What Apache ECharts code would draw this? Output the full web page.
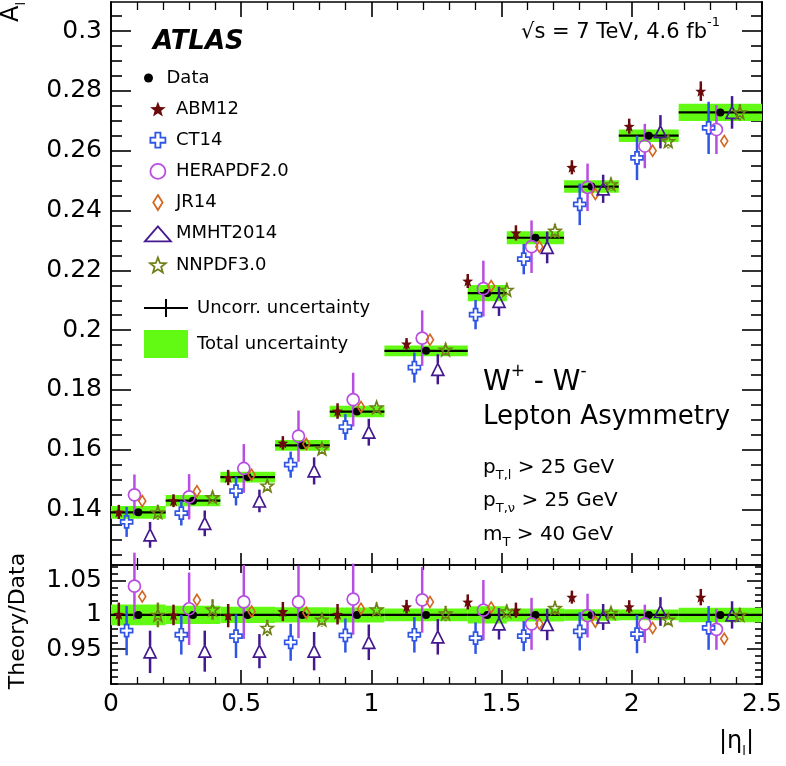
<!DOCTYPE html>
<html><head><meta charset="utf-8">
<script src="https://cdn.jsdelivr.net/npm/echarts@6/dist/echarts.min.js"></script>
<style>html,body{margin:0;padding:0;background:#fff}#c{width:786px;height:766px}</style>
</head><body><div id="c"></div>
<script>
// ---------------- data ----------------
const binEdges  = [0, 0.21, 0.42, 0.63, 0.84, 1.05, 1.37, 1.52, 1.74, 1.95, 2.18, 2.5];
const asymData  = [0.1391, 0.1430, 0.1509, 0.1615, 0.1728, 0.1931, 0.2124, 0.2309, 0.2480, 0.2650, 0.2728];
const uncorrErr = [0.0008, 0.0008, 0.0008, 0.0008, 0.0009, 0.0008, 0.0012, 0.0011, 0.0010, 0.0010, 0.0012];
const totalErr  = [0.0021, 0.0019, 0.0018, 0.0018, 0.0019, 0.0018, 0.0027, 0.0022, 0.0021, 0.0021, 0.0029];

// theory / data ratios and their uncertainties (ratio units)
const ratioABM12 = [1.001, 1.000, 0.999, 1.005, 1.001, 1.012, 1.019, 1.007, 1.026, 1.012, 1.026];
const errABM12   = [0.017, 0.015, 0.017, 0.014, 0.015, 0.010, 0.011, 0.011, 0.0095, 0.0095, 0.012];
const ratioCT14  = [0.977, 0.971, 0.969, 0.960, 0.970, 0.971, 0.966, 0.969, 0.976, 0.972, 0.981];
const errCT14    = [0.036, 0.029, 0.032, 0.027, 0.025, 0.026, 0.023, 0.022, 0.028, 0.028, 0.032];
const ratioHERA  = [1.042, 1.009, 1.019, 1.019, 1.023, 1.022, 1.007, 0.987, 0.999, 0.987, 0.979];
const errHERA    = [0.049, 0.053, 0.054, 0.053, 0.052, 0.048, 0.044, 0.038, 0.032, 0.028, 0.030];
const ratioJR14  = [1.027, 1.022, 1.005, 1.003, 1.009, 1.019, 1.011, 0.987, 0.990, 0.981, 0.965];
const errJR14    = [0, 0, 0, 0, 0, 0, 0, 0, 0, 0, 0];
const ratioMMHT  = [0.946, 0.947, 0.947, 0.947, 0.960, 0.968, 0.987, 0.986, 0.997, 1.005, 1.000];
const errMMHT    = [0.031, 0.030, 0.025, 0.028, 0.026, 0.026, 0.023, 0.023, 0.019, 0.021, 0.020];
const ratioNNPDF = [1.000, 1.008, 0.981, 0.993, 1.008, 1.002, 1.005, 1.010, 1.003, 0.993, 1.000];
const errNNPDF   = [0.018, 0.015, 0.012, 0.010, 0.010, 0.011, 0.010, 0.010, 0.009, 0.009, 0.010];

// tick labels
const xTicks      = [0, 0.5, 1, 1.5, 2, 2.5];
const yTicksTop   = [0.14, 0.16, 0.18, 0.2, 0.22, 0.24, 0.26, 0.28, 0.3];
const yTicksRatio = [0.95, 1, 1.05];

// ---------------- styling ----------------
const FF = '"DejaVu Sans", sans-serif';
const GREEN = '#62fa12';
const TOP_MIN = 0.1215, TOP_MAX = 0.3097;
const R_MIN = 0.899, R_MAX = 1.073;
const theoryOffsets = [-0.075, -0.045, -0.015, 0.015, 0.045, 0.075];

function starPath(inner) {
  let d = '';
  for (let i = 0; i < 10; i++) {
    const r = i % 2 ? inner : 1;
    const a = -Math.PI / 2 + i * Math.PI / 5;
    d += (i ? 'L' : 'M') + (50 + 50 * r * Math.cos(a)).toFixed(2) + ',' + (50 + 50 * r * Math.sin(a)).toFixed(2);
  }
  return 'path://' + d + 'Z';
}
const STAR = starPath(0.42);
const CROSS = 'path://M3.3,0L6.7,0L6.7,3.3L10,3.3L10,6.7L6.7,6.7L6.7,10L3.3,10L3.3,6.7L0,6.7L0,3.3L3.3,3.3Z';
const DIAMOND = 'path://M5,0L10,8L5,16L0,8Z';
const UNCORR_ICON = 'path://M0,8L44,8L44,10L0,10Z M21,0L23,0L23,18L21,18Z';

const theories = [
  {name: 'ABM12',      ratio: ratioABM12, err: errABM12, color: '#6b0a0a', symbol: STAR,       size: [11, 11], open: false, gap: 0},
  {name: 'CT14',       ratio: ratioCT14,  err: errCT14,  color: '#2f55e4', symbol: CROSS,      size: [12, 12], open: true,  gap: 6},
  {name: 'HERAPDF2.0', ratio: ratioHERA,  err: errHERA,  color: '#b84de2', symbol: 'circle',   size: [12, 12], open: true,  gap: 6},
  {name: 'JR14',       ratio: ratioJR14,  err: errJR14,  color: '#d4671f', symbol: DIAMOND,    size: [7, 11],  open: true,  gap: 6},
  {name: 'MMHT2014',   ratio: ratioMMHT,  err: errMMHT,  color: '#44198f', symbol: 'triangle', size: [12, 12], open: true,  gap: 6},
  {name: 'NNPDF3.0',   ratio: ratioNNPDF, err: errNNPDF, color: '#6f7e17', symbol: STAR,       size: [12, 12], open: true,  gap: 6}
];

const centers = binEdges.slice(0, -1).map((lo, i) => (lo + binEdges[i + 1]) / 2);

function minorValues(lo, hi, step, majors) {
  const out = [];
  for (let k = Math.ceil(lo / step - 1e-9); k * step <= hi + 1e-9; k++) {
    const v = +(k * step).toFixed(4);
    if (!majors.some(m => Math.abs(m - v) < 1e-9)) out.push(v);
  }
  return out;
}
const topMinor = minorValues(TOP_MIN, TOP_MAX, 0.005, yTicksTop);
const ratioMinor = minorValues(R_MIN, R_MAX, 0.01, yTicksRatio);

const LINE = {color: '#000', width: 1.6};
function xAx(grid, pos, labels, len, mlen) {
  return {
    type: 'value', gridIndex: grid, position: pos, min: 0, max: 2.5, interval: 0.5,
    axisLine: {show: true, onZero: false, lineStyle: LINE},
    axisTick: {show: true, inside: true, length: len, lineStyle: LINE},
    minorTick: {show: true, splitNumber: 5, length: mlen, lineStyle: {color: '#000', width: 1.3}},
    splitLine: {show: false}, minorSplitLine: {show: false},
    axisLabel: {show: labels, margin: 8, color: '#000', fontSize: 25, fontFamily: FF,
      formatter: v => (xTicks.some(t => Math.abs(t - v) < 1e-9) ? String(+v.toFixed(2)) : '')}
  };
}
function yAx(grid, pos, min, max, ticks, len, labels) {
  return {
    type: 'value', gridIndex: grid, position: pos, min: min, max: max,
    axisLine: {show: true, onZero: false, lineStyle: LINE},
    axisTick: {show: true, inside: true, length: len, customValues: ticks, lineStyle: LINE},
    splitLine: {show: false},
    axisLabel: {show: labels, customValues: ticks, margin: 9, color: '#000', fontSize: 25, fontFamily: FF,
      formatter: v => String(+v.toFixed(3))}
  };
}

const xAxes = [
  xAx(0, 'bottom', false, 12, 7),
  xAx(0, 'top', false, 15, 8),
  xAx(1, 'bottom', true, 14, 7),
  xAx(1, 'top', false, 8, 5)
];
const yAxes = [
  yAx(0, 'left', TOP_MIN, TOP_MAX, yTicksTop, 20, true),
  yAx(0, 'left', TOP_MIN, TOP_MAX, topMinor, 11, false),
  yAx(0, 'right', TOP_MIN, TOP_MAX, yTicksTop, 20, false),
  yAx(0, 'right', TOP_MIN, TOP_MAX, topMinor, 11, false),
  yAx(1, 'left', R_MIN, R_MAX, yTicksRatio, 15, true),
  yAx(1, 'left', R_MIN, R_MAX, ratioMinor, 7, false),
  yAx(1, 'right', R_MIN, R_MAX, yTicksRatio, 15, false),
  yAx(1, 'right', R_MIN, R_MAX, ratioMinor, 7, false)
];

// --------------- series builders ---------------
function bandSeries(panel, rows) {
  return {
    type: 'custom', name: 'Total uncertainty', xAxisIndex: panel ? 2 : 0, yAxisIndex: panel ? 4 : 0,
    z: 1, silent: true, itemStyle: {color: GREEN}, data: rows,
    renderItem: (p, api) => {
      const a = api.coord([api.value(0), api.value(2) + api.value(3)]);
      const b = api.coord([api.value(1), api.value(2) - api.value(3)]);
      return {type: 'rect', shape: {x: a[0], y: a[1], width: b[0] - a[0], height: b[1] - a[1]}, style: {fill: GREEN}};
    }
  };
}
function uncorrSeries(panel, rows) {
  return {
    type: 'custom', name: 'Uncorr. uncertainty', xAxisIndex: panel ? 2 : 0, yAxisIndex: panel ? 4 : 0,
    z: 2, silent: true, itemStyle: {color: '#000'}, data: rows,
    renderItem: (p, api) => {
      const lo = api.value(0), hi = api.value(1), c = api.value(2), v = api.value(3), u = api.value(4);
      const l = api.coord([lo, v]), r = api.coord([hi, v]);
      const t = api.coord([c, v + u]), b = api.coord([c, v - u]);
      const st = {stroke: '#000', lineWidth: 2.2};
      return {type: 'group', children: [
        {type: 'line', shape: {x1: l[0], y1: l[1], x2: r[0], y2: r[1]}, style: st},
        {type: 'line', shape: {x1: t[0], y1: t[1], x2: b[0], y2: b[1]}, style: st}
      ]};
    }
  };
}
function errSeries(panel, th, rows) {
  return {
    type: 'custom', name: th.name + ' err', xAxisIndex: panel ? 2 : 0, yAxisIndex: panel ? 4 : 0,
    z: 3, silent: true, itemStyle: {color: th.color}, data: rows,
    renderItem: (p, api) => {
      const x = api.value(0), y = api.value(1), e = api.value(2);
      const c = api.coord([x, y]), t = api.coord([x, y + e]), b = api.coord([x, y - e]);
      const st = {stroke: th.color, lineWidth: 2.5};
      const ch = [];
      if (c[1] - t[1] > th.gap) ch.push({type: 'line', shape: {x1: c[0], y1: t[1], x2: c[0], y2: c[1] - th.gap}, style: st});
      if (b[1] - c[1] > th.gap) ch.push({type: 'line', shape: {x1: c[0], y1: c[1] + th.gap, x2: c[0], y2: b[1]}, style: st});
      return {type: 'group', children: ch};
    }
  };
}
function markerSeries(panel, th, rows) {
  return {
    type: 'scatter', name: th.name, xAxisIndex: panel ? 2 : 0, yAxisIndex: panel ? 4 : 0,
    z: 5, silent: true, symbol: th.symbol, symbolSize: th.size,
    itemStyle: th.open ? {color: 'rgba(255,255,255,0)', borderColor: th.color, borderWidth: 1.7, opacity: 1}
                       : {color: th.color, borderWidth: 0, opacity: 1},
    data: rows
  };
}
function dataSeries(panel, rows) {
  return {
    type: 'scatter', name: 'Data', xAxisIndex: panel ? 2 : 0, yAxisIndex: panel ? 4 : 0,
    z: 4, silent: true, symbol: 'circle', symbolSize: 8, itemStyle: {color: '#000', opacity: 1}, data: rows
  };
}

const series = [];
// top panel
series.push(bandSeries(0, asymData.map((v, i) => [binEdges[i], binEdges[i + 1], v, totalErr[i]])));
series.push(uncorrSeries(0, asymData.map((v, i) => [binEdges[i], binEdges[i + 1], centers[i], v, uncorrErr[i]])));
// bottom panel
series.push(bandSeries(1, asymData.map((v, i) => [binEdges[i], binEdges[i + 1], 1, totalErr[i] / v])));
series.push(uncorrSeries(1, asymData.map((v, i) => [binEdges[i], binEdges[i + 1], centers[i], 1, uncorrErr[i] / v])));
theories.forEach((th, k) => {
  const xs = centers.map(c => c + theoryOffsets[k]);
  series.push(errSeries(0, th, xs.map((x, i) => [x, th.ratio[i] * asymData[i], th.err[i] * asymData[i]])));
  series.push(errSeries(1, th, xs.map((x, i) => [x, th.ratio[i], th.err[i]])));
});
series.push(dataSeries(0, centers.map((c, i) => [c, asymData[i]])));
series.push(dataSeries(1, centers.map(c => [c, 1])));
theories.forEach((th, k) => {
  const xs = centers.map(c => c + theoryOffsets[k]);
  series.push(markerSeries(0, th, xs.map((x, i) => [x, th.ratio[i] * asymData[i]])));
  series.push(markerSeries(1, th, xs.map((x, i) => [x, th.ratio[i]])));
});

// --------------- legends ---------------
const legText = {color: '#000', fontSize: 18, fontFamily: FF, lineHeight: 20};
const legendIcons = {'ABM12': STAR, 'CT14': CROSS, 'HERAPDF2.0': 'circle', 'JR14': DIAMOND, 'MMHT2014': 'triangle', 'NNPDF3.0': STAR};
const legends = [
  {data: [{name: 'Data', icon: 'circle', itemStyle: {color: '#000', borderWidth: 0}}],
   orient: 'vertical', left: 144, top: 68, itemWidth: 26, itemHeight: 9, textStyle: legText, selectedMode: false, padding: 0},
  {data: theories.map(th => ({name: th.name, icon: legendIcons[th.name],
     itemStyle: th.open ? {color: 'rgba(255,255,255,0)', borderColor: th.color, borderWidth: 1.8} : {color: th.color, borderWidth: 0}})),
   orient: 'vertical', left: 144, top: 99, itemWidth: 26, itemHeight: 15, itemGap: 11.2, textStyle: legText, selectedMode: false, padding: 0},
  {data: [{name: 'Uncorr. uncertainty', icon: UNCORR_ICON, itemStyle: {color: '#000', borderWidth: 0}}],
   orient: 'vertical', left: 144, top: 298, itemWidth: 44, itemHeight: 18, textStyle: Object.assign({}, legText, {padding: [0, 0, 0, 4]}), selectedMode: false, padding: 0},
  {data: [{name: 'Total uncertainty', icon: 'rect', itemStyle: {color: GREEN, borderWidth: 0}}],
   orient: 'vertical', left: 144, top: 330, itemWidth: 44, itemHeight: 28, textStyle: Object.assign({}, legText, {padding: [0, 0, 0, 4]}), selectedMode: false, padding: 0}
];

// --------------- text annotations ---------------
const txt = (x, y, text, rich, extra) => Object.assign({type: 'text', x: x, y: y, silent: true,
  style: Object.assign({text: text, rich: rich, fill: '#000', fontFamily: FF, verticalAlign: 'middle', align: 'left'}, extra || {})});
const sup = (big, small) => ({
  a: {fontSize: big, lineHeight: big + 6, verticalAlign: 'bottom', fontFamily: FF, fill: '#000'},
  s: {fontSize: small, lineHeight: small + 2, verticalAlign: 'top', fontFamily: FF, fill: '#000'}
});
const sub = (big, small, drop) => ({
  a: {fontSize: big, lineHeight: big + 4, verticalAlign: 'top', fontFamily: FF, fill: '#000'},
  b: {fontSize: small, lineHeight: small + 1, padding: [drop, 0, 0, 0], verticalAlign: 'bottom', fontFamily: FF, fill: '#000'}
});

const graphics = [
  {type: 'text', x: 153, y: 42, silent: true, style: {text: 'ATLAS', fill: '#000', fontFamily: FF, fontSize: 26, fontWeight: 'bold', fontStyle: 'italic', verticalAlign: 'middle'}},
  txt(521, 30, '{a|√s = 7 TeV, 4.6 fb}{s|-1}', sup(21, 13)),
  txt(483, 380, '{a|W}{s|+}{a| - W}{s|-}', sup(28, 17)),
  txt(483, 417, 'Lepton Asymmetry', null, {fontSize: 26}),
  txt(483, 470, '{a|p}{b|T,l}{a| > 25 GeV}', sub(20, 13, 12)),
  txt(483, 503, '{a|p}{b|T,ν}{a| > 25 GeV}', sub(20, 13, 12)),
  txt(483, 537, '{a|m}{b|T}{a| > 40 GeV}', sub(20, 13, 12)),
  Object.assign(txt(14, 2, '{a|A}{b|l}', sub(24, 13, 12), {align: 'right'}), {rotation: Math.PI / 2}),
  Object.assign(txt(18, 621, 'Theory/Data', null, {align: 'center', fontSize: 22}), {rotation: Math.PI / 2}),
  txt(754, 744, '{a||η}{b|l}{a||}', sub(24, 13, 12), {align: 'right'})
];

const chart = echarts.init(document.getElementById('c'), null, {renderer: 'canvas'});
chart.setOption({
  animation: false,
  backgroundColor: '#fff',
  textStyle: {fontFamily: FF},
  grid: [
    {left: 111, right: 24, top: 2, height: 563, outerBoundsMode: 'none'},
    {left: 111, right: 24, top: 565, height: 119, outerBoundsMode: 'none'}
  ],
  xAxis: xAxes,
  yAxis: yAxes,
  legend: legends,
  series: series,
  graphic: {elements: graphics}
});
</script>
</body></html>
